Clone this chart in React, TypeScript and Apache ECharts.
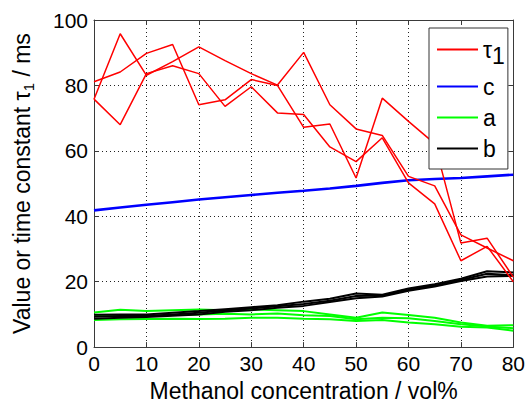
import React, { useEffect, useRef } from "react";
import * as echarts from "echarts";

const methanol = [0, 5, 10, 15, 20, 25, 30, 35, 40, 45, 50, 55, 60, 65, 70, 75, 80];

const tau1Run1 = [81.1, 84.1, 89.8, 92.5, 74.1, 75.6, 81.8, 80.0, 67.2, 68.2, 51.7, 76.1, 69.0, 62.2, 31.8, 33.3, 21.4];
const tau1Run2 = [75.8, 95.8, 83.1, 87.3, 91.8, 87.6, 83.6, 80.1, 90.1, 74.1, 66.7, 64.7, 52.2, 49.3, 34.3, 30.3, 26.4];
const tau1Run3 = [75.8, 68.0, 83.6, 86.0, 83.6, 73.6, 79.6, 71.6, 71.1, 61.2, 56.7, 64.0, 50.2, 43.8, 26.4, 30.8, 20.0];

const cValues = [41.8, 42.7, 43.5, 44.3, 45.1, 45.8, 46.5, 47.2, 47.8, 48.5, 49.3, 50.2, 51.0, 51.4, 51.7, 52.2, 52.7];

const aRun1 = [10.6, 11.4, 11.0, 11.3, 11.5, 11.3, 11.5, 11.3, 11.0, 10.0, 9.0, 10.6, 9.8, 9.0, 7.5, 6.5, 6.7];
const aRun2 = [9.5, 9.8, 9.5, 9.8, 10.0, 10.2, 10.0, 10.3, 9.7, 9.5, 8.5, 9.0, 8.8, 8.0, 7.0, 6.3, 5.8];
const aRun3 = [8.3, 8.5, 8.6, 8.7, 8.6, 8.7, 9.0, 9.0, 8.7, 8.5, 8.0, 8.3, 7.5, 7.0, 6.2, 6.0, 5.0];

const bRun1 = [9.9, 10.0, 10.0, 10.5, 11.0, 11.6, 12.2, 12.8, 13.9, 14.8, 16.4, 16.0, 17.9, 19.2, 20.9, 23.2, 22.8];
const bRun2 = [9.3, 9.5, 9.5, 10.0, 10.5, 11.2, 11.8, 12.5, 13.2, 14.2, 15.6, 15.8, 17.5, 18.8, 20.5, 22.4, 22.0];
const bRun3 = [8.7, 9.0, 9.2, 9.6, 10.0, 10.8, 11.3, 12.0, 12.6, 13.8, 14.9, 15.5, 17.2, 18.5, 20.2, 21.6, 21.8];

const xTicks = { min: 0, max: 80, interval: 10 };
const yTicks = { min: 0, max: 100, interval: 20 };

const FONT = "Liberation Sans, Arial, Helvetica, sans-serif";

const pairs = (ys: number[]) => methanol.map((x, i) => [x, ys[i]]);

const mk = (name: string, ys: number[], color: string, width: number) => ({
  type: "line",
  name,
  data: pairs(ys),
  symbol: "none",
  showSymbol: false,
  lineStyle: { color, width },
  itemStyle: { color },
  xAxisIndex: 0,
  yAxisIndex: 0,
  silent: true,
});

export default function App() {
  const ref = useRef<HTMLDivElement>(null);
  useEffect(() => {
    if (!ref.current) return;
    const chart = echarts.init(ref.current, undefined, { renderer: "svg" });
    const gridColor = "#222";
    const boxColor = "#3a3a3a";
    const splitLine = { show: true, lineStyle: { color: gridColor, type: [1, 3] as any, width: 1 } };
    const tick = { show: true, inside: true, length: 5, lineStyle: { color: boxColor } };
    chart.setOption({
      animation: false,
      backgroundColor: "#fff",
      textStyle: { fontFamily: FONT },
      grid: { left: 94, right: 14, top: 20, bottom: 52, containLabel: false },
      legend: {
        orient: "vertical",
        left: 429,
        top: 28,
        padding: [4, 3, 9, 8],
        itemGap: 8,
        itemWidth: 41,
        itemHeight: 2,
        icon: "rect",
        backgroundColor: "#fff",
        borderColor: "#333",
        borderWidth: 1,
        borderRadius: 0,
        data: ["τ1", "c", "a", "b"],
        formatter: (n: string) => (n === "τ1" ? "{m|τ}{s|1}" : "{m|" + n + "}"),
        textStyle: {
          fontFamily: FONT,
          color: "#000",
          fontSize: 23,
          rich: {
            m: { fontSize: 23, fontFamily: FONT, color: "#000", lineHeight: 24 },
            s: { fontSize: 23, fontFamily: FONT, color: "#000", padding: [12, 0, 0, 0], lineHeight: 24 },
          },
        },
      },
      xAxis: [
        {
          type: "value",
          position: "bottom",
          ...xTicks,
          name: "Methanol concentration / vol%",
          nameLocation: "middle",
          nameGap: 28,
          nameTextStyle: { fontFamily: FONT, fontSize: 23, color: "#000" },
          axisLine: { show: true, onZero: false, lineStyle: { color: boxColor, width: 1 } },
          axisTick: tick,
          axisLabel: { show: true, fontFamily: FONT, fontSize: 21, color: "#000", margin: 6 },
          splitLine,
        },
        {
          type: "value",
          position: "top",
          ...xTicks,
          axisLine: { show: true, onZero: false, lineStyle: { color: boxColor, width: 1 } },
          axisTick: tick,
          axisLabel: { show: false },
          splitLine: { show: false },
        },
      ],
      yAxis: [
        {
          type: "value",
          position: "left",
          ...yTicks,
          name: "{m|Value or time constant τ}{s|1}{m| / ms}",
          nameLocation: "middle",
          nameGap: 60,
          nameTextStyle: {
            fontFamily: FONT,
            fontSize: 23,
            color: "#000",
            rich: {
              m: { fontSize: 23, fontFamily: FONT, color: "#000", lineHeight: 24 },
              s: { fontSize: 15, fontFamily: FONT, color: "#000", padding: [12, 0, 0, 0], lineHeight: 24 },
            },
          },
          axisLine: { show: true, onZero: false, lineStyle: { color: boxColor, width: 1 } },
          axisTick: tick,
          axisLabel: { show: true, fontFamily: FONT, fontSize: 21, color: "#000", margin: 6 },
          splitLine,
        },
        {
          type: "value",
          position: "right",
          ...yTicks,
          axisLine: { show: true, onZero: false, lineStyle: { color: boxColor, width: 1 } },
          axisTick: tick,
          axisLabel: { show: false },
          splitLine: { show: false },
        },
      ],
      series: [
        mk("c", cValues, "#0000ff", 2.6),
        mk("a", aRun1, "#00ff00", 2),
        mk("a", aRun2, "#00ff00", 2),
        mk("a", aRun3, "#00ff00", 2),
        mk("b", bRun1, "#000000", 2),
        mk("b", bRun2, "#000000", 2),
        mk("b", bRun3, "#000000", 2),
        mk("τ1", tau1Run1, "#ff0000", 1.5),
        mk("τ1", tau1Run2, "#ff0000", 1.5),
        mk("τ1", tau1Run3, "#ff0000", 1.5),
      ],
    });
    return () => chart.dispose();
  }, []);
  return <div ref={ref} style={{ width: 528, height: 407, position: "absolute", left: 0, top: 0 }} />;
}
